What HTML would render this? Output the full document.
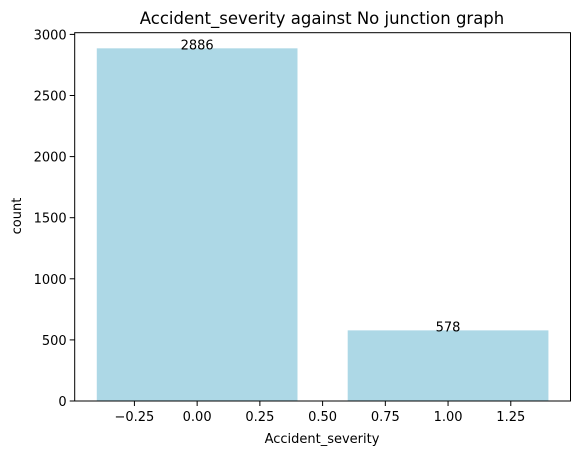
<!DOCTYPE html>
<html><head><meta charset="utf-8"><style>body{margin:0;background:#fff}svg{display:block;font-family:"DejaVu Sans","Liberation Sans",sans-serif}</style></head>
<body>
<svg id="chart" width="580" height="456" viewBox="0 0 580 456" xmlns="http://www.w3.org/2000/svg">
<rect width="580" height="456" fill="#fff"/>
<g id="plot"></g>
<text x="322" y="24" font-size="16.5" text-anchor="middle" fill="#000">Accident_severity against No junction graph</text>
<text x="322" y="443" font-size="13" text-anchor="middle" fill="#000">Accident_severity</text>
<text x="0" y="0" font-size="13" text-anchor="middle" fill="#000" transform="translate(21,216) rotate(-90)">count</text>
</svg>
<script>
const categories=[0,1];
const counts=[2886,578];
const xTicks=[-0.25,0,0.25,0.5,0.75,1.0,1.25];
const xTickLabels=["\u22120.25","0.00","0.25","0.50","0.75","1.00","1.25"];
const yTicks=[0,500,1000,1500,2000,2500,3000];

const NS="http://www.w3.org/2000/svg";
const L=74.7,R=570.5,T=32.7,B=401;
const xmin=-0.488,xmax=1.488;
const ymax=(B-T)/0.1222;
function xs(v){return L+(v-xmin)/(xmax-xmin)*(R-L);}
function ys(v){return B-v/ymax*(B-T);}
const g=document.getElementById('plot');
function mk(t,a){const e=document.createElementNS(NS,t);for(const k in a)e.setAttribute(k,a[k]);g.appendChild(e);return e;}
categories.forEach((c,i)=>{
  const r=mk('rect',{x:xs(c-0.4),y:ys(counts[i]),width:xs(c+0.4)-xs(c-0.4),height:B-ys(counts[i]),fill:'#add8e6'});
  
  
  const t=mk('text',{x:xs(c),y:ys(counts[i])+1,'font-size':13,'text-anchor':'middle',fill:'#000'});
  t.textContent=counts[i];
  
  
});
const frame=mk('rect',{x:L,y:T,width:R-L,height:B-T,fill:'none',stroke:'#000','stroke-width':1});


xTicks.forEach((v,i)=>{
  const x=xs(v);
  const tk=mk('line',{x1:x,x2:x,y1:B,y2:B+5,stroke:'#000'});
  
  
  const t=mk('text',{x:x,y:B+20,'font-size':13,'text-anchor':'middle',fill:'#000'});
  t.textContent=xTickLabels[i];
  
  
});
yTicks.forEach(v=>{
  const y=ys(v);
  const tk=mk('line',{x1:L-5,x2:L,y1:y,y2:y,stroke:'#000'});
  
  
  const t=mk('text',{x:L-8,y:y+5,'font-size':13,'text-anchor':'end',fill:'#000'});
  t.textContent=v;
  
  
});
</script>
</body></html>
